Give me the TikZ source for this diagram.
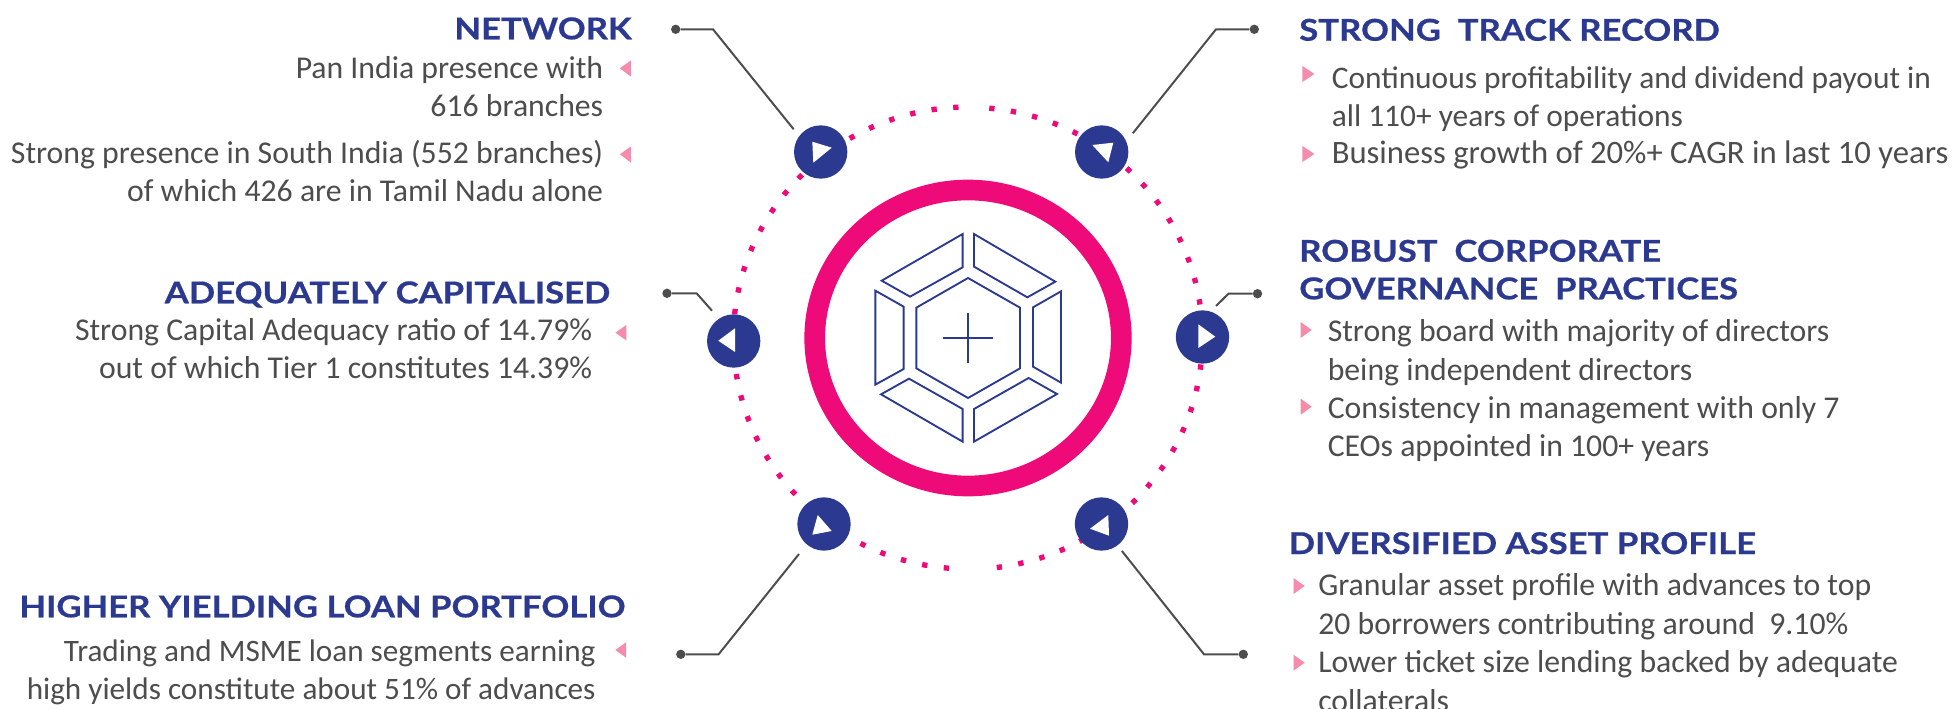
\documentclass[tikz,border=0pt]{standalone}
\usepackage{fontspec}
\setmainfont{Carlito}
\newfontfamily\headfont[FakeStretch=1.155,BoldFeatures={FakeBold=0.6}]{Lato}
\definecolor{navy}{HTML}{2B3990}
\definecolor{hotpink}{HTML}{EE0A78}
\definecolor{softpink}{HTML}{F58CAB}
\definecolor{ink}{HTML}{4D4D4D}
\tikzset{
  bodytext/.style={text=ink,inner sep=0pt,font=\fontsize{23.8}{28.6}\selectfont},
  bodyR/.style={bodytext,align=right,anchor=base east},
  bodyL/.style={bodytext,align=left,anchor=base west},
  headtext/.style={text=navy,inner sep=0pt,font=\headfont\fontsize{22.5}{28.2}\selectfont\bfseries},
  headR/.style={headtext,align=right,anchor=base east},
  headL/.style={headtext,align=left,anchor=base west},
  hub/.style={circle,fill=navy,minimum size=40pt,inner sep=0pt},
  leader/.style={draw=ink,line width=1.5pt},
  enddot/.style={circle,fill=ink,minimum size=7pt,inner sep=0pt},
  icon/.style={draw=navy,line width=1.4pt,line join=miter},
  orbit/.style={hotpink,line width=4pt,dash pattern=on 4pt off 12.35pt},
  bulletmark/.style={fill=softpink},
  glyph/.style={fill=white}
}
\begin{document}
\begin{tikzpicture}[x=0.75pt,y=-0.75pt]
\clip (0,0) rectangle (1953,709);
\fill[white] (0,0) rectangle (1953,709);
% central ring and dotted orbit
\draw[hotpink,line width=15.5pt] (968,338) ellipse [x radius=153.3,y radius=148];
\draw[orbit] (989.2,108.2) arc [start angle=-84.8,end angle=86.2,x radius=234.5,y radius=231];
\draw[orbit] (958.5,107.2) arc [start angle=-92.3,end angle=-266.5,x radius=234.5,y radius=231];
% icon
\begin{scope}[shift={(780,160)},x=0.25pt,y=-0.25pt]
\draw[icon] (548,222)--(548,322)--(390,410)--(305,362)--cycle;
\draw[icon] (582,222)--(582,320)--(742,412)--(826,365)--cycle;
\draw[icon] (286,392)--(371,440)--(371,627)--(286,674)--cycle;
\draw[icon] (843,394)--(759,442)--(759,620)--(843,668)--cycle;
\draw[icon] (303,703)--(387,656)--(548,747)--(548,845)--cycle;
\draw[icon] (582,747)--(746,654)--(831,702)--(582,845)--cycle;
\draw[icon] (564,354)--(720,443)--(720,625)--(564,714)--(409,625)--(409,443)--cycle;
\draw[icon,line width=1.1pt] (564,460)--(564,608) (489,534)--(639,534);
\end{scope}
% hubs
\node[hub] (hubNW) at (820.7,152) {};
\node[hub] (hubNE) at (1101.7,152) {};
\node[hub] (hubW) at (733.7,341) {};
\node[hub] (hubE) at (1202.5,337) {};
\node[hub] (hubSW) at (824,524) {};
\node[hub] (hubSE) at (1101.5,524) {};
\fill[glyph] (812.3,141.7)--(831.7,147.7)--(813.3,162.7)--cycle;
\fill[glyph] (1092.3,145)--(1113.3,142.7)--(1108.3,162.3)--cycle;
\fill[glyph] (735,328.3)--(718.3,340.7)--(735,352)--cycle;
\fill[glyph] (1198.3,324.3)--(1215.3,336.7)--(1198.3,348)--cycle;
\fill[glyph] (817.7,515)--(831.7,531)--(812.3,534.7)--cycle;
\fill[glyph] (1108.3,515)--(1090,528.7)--(1109,535.7)--cycle;
% leaders
\node[enddot] (dNW) at (675.7,29.3) {};
\coordinate (eNW) at (713,29.3);
\coordinate (tNW) at (793.7,129.3);
\draw[leader] (dNW) -- (eNW) -- (tNW);
\node[enddot] (dNE) at (1254.3,29.3) {};
\coordinate (eNE) at (1216,29.3);
\coordinate (tNE) at (1132.8,133.3);
\draw[leader] (dNE) -- (eNE) -- (tNE);
\node[enddot] (dW) at (667,293.3) {};
\coordinate (eW) at (696.6,293.3);
\coordinate (tW) at (712,310.7);
\draw[leader] (dW) -- (eW) -- (tW);
\node[enddot] (dE) at (1257.5,293.7) {};
\coordinate (eE) at (1228.5,293.7);
\coordinate (tE) at (1216,306);
\draw[leader] (dE) -- (eE) -- (tE);
\node[enddot] (dSW) at (680.8,654.3) {};
\coordinate (eSW) at (718.6,654.3);
\coordinate (tSW) at (799,554);
\draw[leader] (dSW) -- (eSW) -- (tSW);
\node[enddot] (dSE) at (1243.3,654.3) {};
\coordinate (eSE) at (1204,654.3);
\coordinate (tSE) at (1121.9,551);
\draw[leader] (dSE) -- (eSE) -- (tSE);
% bullets
\fill[bulletmark] (619.8,68.3)--(630.8,60.5)--(630.8,76.5)--cycle;
\fill[bulletmark] (619.8,154.3)--(630.8,146.5)--(630.8,162.5)--cycle;
\fill[bulletmark] (615.4,332.7)--(626.4,324.9)--(626.4,340.5)--cycle;
\fill[bulletmark] (615.3,650)--(626.2,642.2)--(626.2,657.8)--cycle;
\fill[bulletmark] (1314.4,74)--(1302.4,66)--(1302.4,82)--cycle;
\fill[bulletmark] (1314.4,154)--(1302.4,146)--(1302.4,162)--cycle;
\fill[bulletmark] (1311.7,330)--(1300.7,322)--(1300.7,338)--cycle;
\fill[bulletmark] (1311.7,406.7)--(1300.7,398.7)--(1300.7,414.7)--cycle;
\fill[bulletmark] (1304.6,586)--(1293.6,578)--(1293.6,594)--cycle;
\fill[bulletmark] (1304.6,662.7)--(1293.6,654.7)--(1293.6,670.7)--cycle;
% left texts
\node[headR] (h1) at (632,39.3) {NETWORK};
\node[bodyR] (t1a) at (603.4,116.5) {Pan India presence with\\616 branches};
\node[bodyR] (t1b) at (603.4,201.5) {Strong presence in South India (552 branches)\\of which 426 are in Tamil Nadu alone};
\node[headR] (h2) at (610.5,303.3) {ADEQUATELY CAPITALISED};
\node[bodyR] (t2a) at (592.4,378.3) {Strong Capital Adequacy ratio of 14.79\%\\out of which Tier 1 constitutes 14.39\%};
\node[headR] (h3) at (625.7,617.3) {HIGHER YIELDING LOAN PORTFOLIO};
\node[bodyR,font=\fontsize{23.4}{28.6}\selectfont] (t3a) at (595.8,699.3) {Trading and MSME loan segments earning\\high yields constitute about 51\% of advances};
% right texts
\node[headL] (h4) at (1299,40.7) {STRONG\ \ TRACK RECORD};
\node[bodyL,font=\fontsize{23.55}{28.6}\selectfont] (t4a) at (1331.5,126.5) {Continuous profitability and dividend payout in\\all 110+ years of operations};
\node[bodyL,font=\fontsize{24.5}{28.6}\selectfont] (t4b) at (1331.5,163.3) {Business growth of 20\%+ CAGR in last 10 years};
\node[headL] (h5) at (1299,299.3) {ROBUST\ \ CORPORATE\\GOVERNANCE\ \ PRACTICES};
\node[bodyL] (t5a) at (1327.5,380) {Strong board with majority of directors\\being independent directors};
\node[bodyL] (t5b) at (1327.5,456.7) {Consistency in management with only 7\\CEOs appointed in 100+ years};
\node[headL] (h6) at (1288.5,554) {DIVERSIFIED ASSET PROFILE};
\node[bodyL] (t6a) at (1318,634) {Granular asset profile with advances to top\\20 borrowers contributing around\ \ 9.10\%};
\node[bodyL] (t6b) at (1318,711) {Lower ticket size lending backed by adequate\\collaterals};
\end{tikzpicture}
\end{document}
